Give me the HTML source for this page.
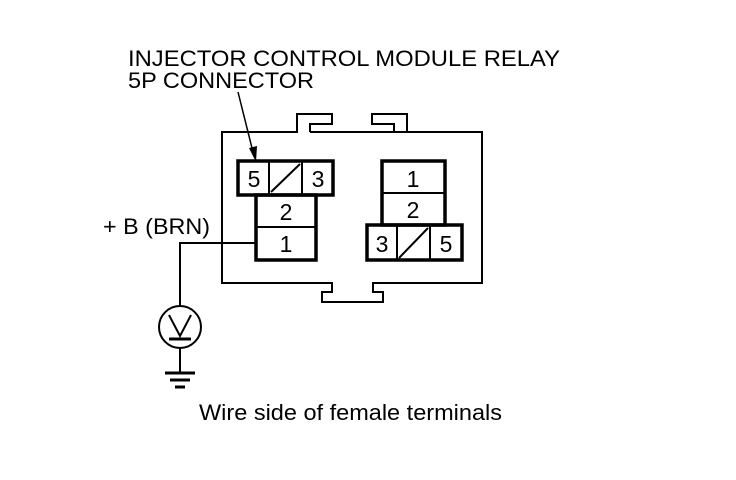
<!DOCTYPE html>
<html><head><style>body{margin:0;background:#fff}svg{display:block}text{font-family:"Liberation Sans",sans-serif;fill:#000}</style></head><body>
<svg width="736" height="480" viewBox="0 0 736 480">
<g fill="none" stroke="#000" stroke-width="2">
<path d="M310 132 V124 H332 V114 H297 V132 H222 V283 H332 V292 H322 V302 H383 V292 H373 V283 H482 V132 H394 V124 H372 V114 H407 V132 H310"/>
</g>
<g fill="none" stroke="#000" stroke-width="3.5">
<rect x="238" y="161" width="95" height="34"/>
<rect x="256" y="195" width="60" height="65"/>
<rect x="382" y="161" width="63" height="64"/>
<rect x="367" y="225" width="95" height="35"/>
</g>
<g stroke="#000" stroke-width="2" fill="none">
<line x1="269" y1="161" x2="269" y2="195"/><line x1="302" y1="161" x2="302" y2="195"/>
<line x1="271" y1="192" x2="300" y2="164"/>
<line x1="256" y1="227" x2="316" y2="227"/>
<line x1="382" y1="193" x2="445" y2="193"/>
<line x1="397" y1="225" x2="397" y2="260"/><line x1="430" y1="225" x2="430" y2="260"/>
<line x1="399" y1="258" x2="428" y2="228"/>
<path d="M256 243 H180 V306"/>
<circle cx="180" cy="327" r="21"/>
<path d="M169 315 L180 336 L191 315"/>
<line x1="169" y1="339" x2="191" y2="339" stroke-width="3"/>
<line x1="180" y1="348" x2="180" y2="372"/>
<line x1="165" y1="373" x2="195" y2="373" stroke-width="3"/>
<line x1="170" y1="380" x2="190" y2="380" stroke-width="3"/>
<line x1="175" y1="387" x2="185" y2="387" stroke-width="3"/>
<line x1="238" y1="92" x2="253" y2="152" stroke-width="1.5"/>
</g>
<path d="M249 148 L256 162 L257 146 Z" fill="#000"/>
<g font-size="22">
<text x="128" y="66" textLength="432" lengthAdjust="spacingAndGlyphs">INJECTOR CONTROL MODULE RELAY</text>
<text x="128" y="88" textLength="186" lengthAdjust="spacingAndGlyphs">5P CONNECTOR</text>
<text x="103" y="234" textLength="107" lengthAdjust="spacingAndGlyphs">+ B (BRN)</text>
<text x="199" y="420" textLength="303" lengthAdjust="spacingAndGlyphs">Wire side of female terminals</text>
</g>
<g font-size="23" text-anchor="middle">
<text x="254" y="187">5</text><text x="318" y="187">3</text>
<text x="286" y="220">2</text><text x="286" y="252">1</text>
<text x="413" y="187">1</text><text x="413" y="218">2</text>
<text x="382" y="252">3</text><text x="446" y="252">5</text>
</g>
</svg></body></html>
